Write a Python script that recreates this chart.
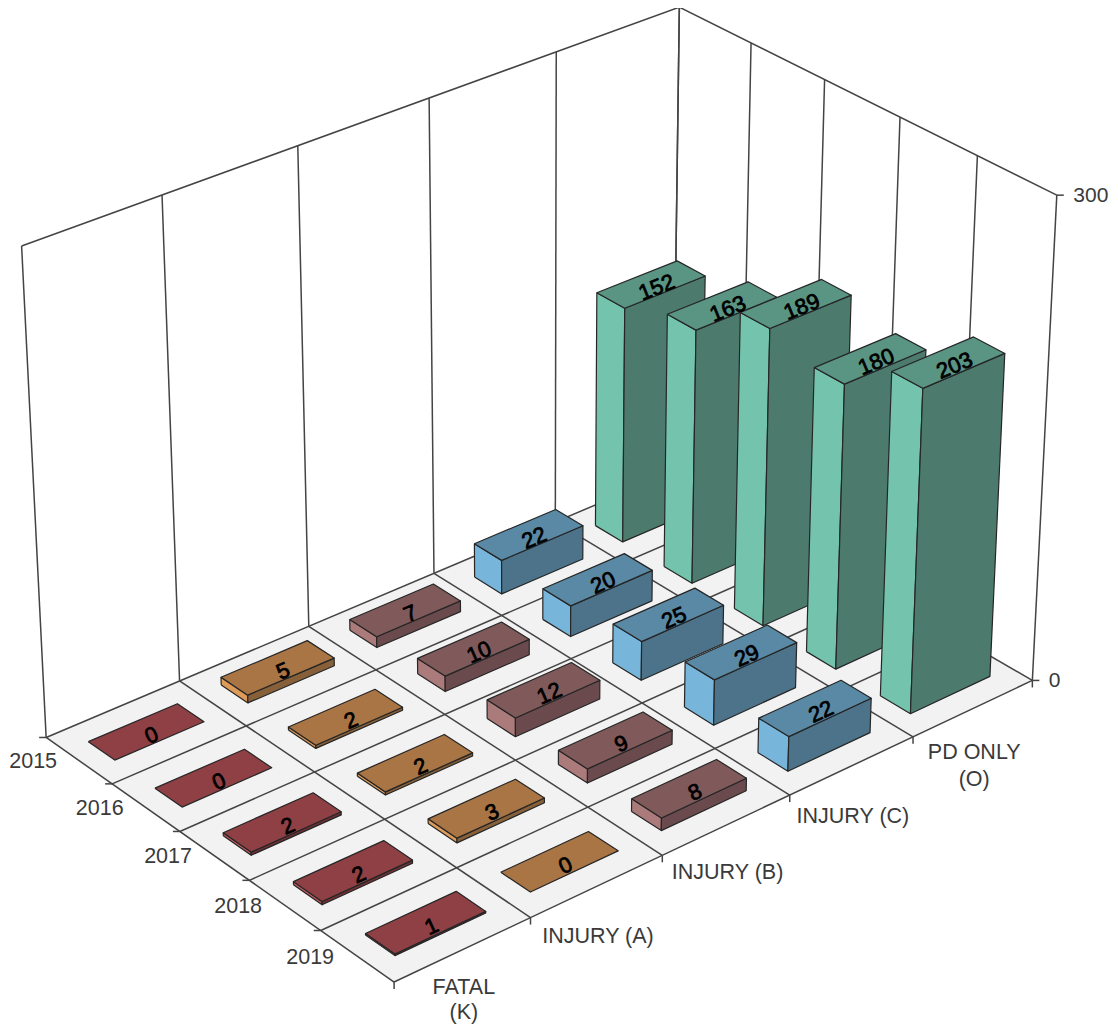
import math
import numpy as np, pandas as pd, altair as alt

# ---- data
YEARS = ["2015", "2016", "2017", "2018", "2019"]
CATEGORIES = [["FATAL", "(K)"], ["INJURY (A)"], ["INJURY (B)"], ["INJURY (C)"], ["PD ONLY", "(O)"]]
FATAL = [0, 0, 2, 2, 1]
INJ_A = [5, 2, 2, 3, 0]
INJ_B = [7, 10, 12, 9, 8]
INJ_C = [22, 20, 25, 29, 22]
PD = [152, 163, 189, 180, 203]
SERIES = [FATAL, INJ_A, INJ_B, INJ_C, PD]
Z_TICKS = [0, 300]

# ---- styles: (left face, top face, right face)
SHADES = [
    ("#bd5a5e", "#8f4044", "#6e3034"),
    ("#dd9a58", "#a97544", "#87603a"),
    ("#ab7a7a", "#805a5a", "#6b4a4e"),
    ("#78b5da", "#5a89a5", "#4c7389"),
    ("#74c4ad", "#5a9482", "#4c7a6d"),
]
FLOOR = "#f2f2f2"
EDGE = "#262626"
GRID = "#444444"
LABEL = "#3a3a3a"
FONT = "Liberation Sans"

# ---- perspective camera: (category, year, count/100) -> page pixels
CAMERA = np.array([
    [136.3597262, 64.5608833, -8.5225842, 46.1430499],
    [-45.3663872, 36.3798378, -167.7419076, 737.479413],
    [0.0163252, -0.0127628, -0.0159117, 1.0],
])


def project(c, y, z=0.0):
    w = CAMERA @ np.array([c, y, z / 100.0, 1.0])
    return float(w[0] / w[2]), float(w[1] / w[2])


lines, polys, texts = [], [], []
pid = [0]


def add_line(pts):
    pid[0] += 1
    for k, (u, v) in enumerate(pts):
        lines.append({"pid": pid[0], "k": k, "px": u, "py": v})


def add_poly(pts, fill):
    pid[0] += 1
    for k, (u, v) in enumerate(list(pts) + [pts[0]]):
        polys.append({"pid": pid[0], "k": k, "px": u, "py": v, "fill": fill})


# floor
floor_df = pd.DataFrame([
    {"k": k, "px": p[0], "py": p[1]}
    for k, p in enumerate([project(0, 0), project(5, 0), project(5, 5), project(0, 5), project(0, 0)])
])
# floor grid
for i in range(6):
    add_line([project(i, 0), project(i, 5)])
    add_line([project(0, i), project(5, i)])
# walls
for i in range(6):
    add_line([project(i, 0), project(i, 0, 300)])
    add_line([project(5, i), project(5, i, 300)])
add_line([project(0, 0, 300), project(5, 0, 300), project(5, 5, 300)])

# ticks
TICK = 7
for i in range(5):
    u, v = project(0, i)
    add_line([(u - TICK, v), (u, v)])
for i in range(6):
    u, v = project(i, 5)
    add_line([(u, v), (u, v + TICK)])
for z in Z_TICKS:
    u, v = project(5, 5, z)
    add_line([(u, v), (u + TICK, v)])
grid_df = pd.DataFrame(lines)

# bars, far to near
C_IN, Y_IN = 1 / 6, 0.3
for c in range(4, -1, -1):
    for y in range(5):
        h = SERIES[c][y]
        left, top, right = SHADES[c]
        c0, c1, y0, y1 = c + C_IN, c + 1 - C_IN, y + Y_IN, y + 1 - Y_IN
        if h > 0:
            add_poly([project(c0, y0), project(c0, y1), project(c0, y1, h), project(c0, y0, h)], left)
            add_poly([project(c0, y1), project(c1, y1), project(c1, y1, h), project(c0, y1, h)], right)
        add_poly([project(c0, y0, h), project(c1, y0, h), project(c1, y1, h), project(c0, y1, h)], top)
        u, v = project(c + .5, y + .58, h)
        a0, b0 = project(c0, y + .5, h)
        a1, b1 = project(c1, y + .5, h)
        texts.append({"px": u, "py": v, "t": str(h), "angle": math.degrees(math.atan2(b1 - b0, a1 - a0)) % 360})
poly_df = pd.DataFrame(polys)
val_df = pd.DataFrame(texts)

# axis labels
ax = []
for i, yr in enumerate(YEARS):
    u, v = project(0, i)
    ax.append({"px": u - 13 + 0.6 * i, "py": v + 25 + 0.5 * i, "t": yr})
CAT_DY = [[38, 63], [51], [48], [51], [45, 72]]
for i, cat in enumerate(CATEGORIES):
    u, v = project(i + .5, 5)
    for line, dy in zip(cat, CAT_DY[i]):
        ax.append({"px": u + 1, "py": v + dy, "t": line})
ax_df = pd.DataFrame(ax)
z_rows = []
for z in Z_TICKS:
    u, v = project(5, 5, z)
    z_rows.append({"px": u + 16.5, "py": v + 1, "t": str(z)})
z_df = pd.DataFrame(z_rows)

X = alt.X("px:Q", axis=None, scale=alt.Scale(domain=[8, 1110], nice=False, zero=False))
Y = alt.Y("py:Q", axis=None, scale=alt.Scale(domain=[1028, 8], nice=False, zero=False))

floor_layer = alt.Chart(floor_df).mark_line(strokeWidth=1, fill=FLOOR, stroke=FLOOR).encode(
    x=X, y=Y, order="k:Q")
grid_layer = alt.Chart(grid_df).mark_line(strokeWidth=1.5, color=GRID).encode(
    x=X, y=Y, order="k:Q", detail="pid:N")
bar_layer = alt.Chart(poly_df).mark_line(strokeWidth=1.2, strokeJoin="round", stroke=EDGE).encode(
    x=X, y=Y, order="k:Q", detail="pid:N",
    fill=alt.Fill("fill:N", scale=None))
val_layer = alt.Chart(val_df).mark_text(font=FONT, fontSize=22, color="#000000", stroke="#000000", strokeWidth=0.8, baseline="middle", align="center").encode(
    x=X, y=Y, text="t:N", angle=alt.Angle("angle:Q", scale=None))
ax_layer = alt.Chart(ax_df).mark_text(font=FONT, fontSize=21.5, color=LABEL, baseline="middle", align="center").encode(
    x=X, y=Y, text="t:N")
z_layer = alt.Chart(z_df).mark_text(font=FONT, fontSize=21, color=LABEL, baseline="middle", align="left").encode(
    x=X, y=Y, text="t:N")

chart = alt.layer(floor_layer, grid_layer, bar_layer, val_layer, ax_layer, z_layer).properties(
    width=1102, height=1020, padding=0, autosize=alt.AutoSizeParams(type="none")
).configure_view(stroke=None)

chart.save("out.html", embed_options={"renderer": "svg", "actions": False})
